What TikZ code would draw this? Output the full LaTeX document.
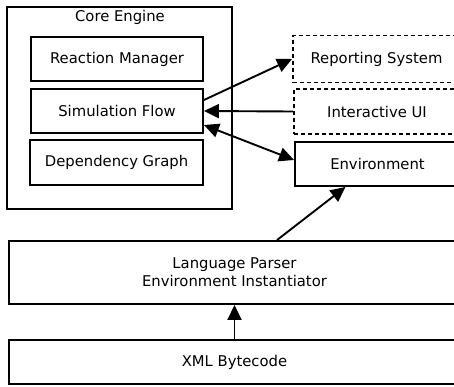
\documentclass[tikz,border=0pt]{standalone}
\usepackage{fontspec}
\setmainfont{DejaVu Sans}
\usetikzlibrary{arrows.meta}
\begin{document}
\begin{tikzpicture}[x=1pt,y=-1pt,
  every node/.style={font=\fontsize{14.8}{18}\selectfont},
  box/.style={draw,line width=1.9pt,rectangle,inner sep=0pt,align=center},
  dbox/.style={box,dash pattern=on 4pt off 3pt},
  arr/.style={line width=1.9pt,-{Triangle[length=15pt,width=14pt]}},
  darr/.style={line width=1.9pt,{Triangle[length=15pt,width=14pt]}-{Triangle[length=15pt,width=14pt]}}]
\useasboundingbox (0,0) rectangle (454,386);
\clip (0,0) rectangle (454,386);
\node[box,minimum width=225pt,minimum height=202pt] (core) at (119.5,108) {};
\node (coretitle) at (120,17) {Core Engine};
\node[box,minimum width=172pt,minimum height=44pt] (rm) at (117,59) {Reaction Manager};
\node[box,minimum width=172pt,minimum height=44pt] (sim) at (117,111) {Simulation Flow};
\node[box,minimum width=173pt,minimum height=45pt] (dep) at (116.5,162.5) {Dependency Graph};
\node[dbox,minimum width=167pt,minimum height=47pt] (rep) at (376.5,59) {Reporting System};
\node[dbox,minimum width=166pt,minimum height=45pt] (ui) at (377,111.5) {Interactive UI};
\node[box,minimum width=165pt,minimum height=44pt] (env) at (377.5,164) {Environment};
\node[box,minimum width=451pt,minimum height=63pt] (parser) at (234.5,272.5) {Language Parser\\Environment Instantiator};
\node[box,minimum width=451pt,minimum height=44pt] (xml) at (234.5,362) {XML Bytecode};
\draw[arr] ([yshift=11pt]sim.east) -- (rep.west);
\draw[arr] (ui.west) -- (sim.east);
\draw[darr] ([yshift=-14pt]sim.east) -- ([yshift=4pt]env.west);
\draw[arr] ([xshift=42.5pt]parser.north) -- ([xshift=-32pt]env.south);
\draw[arr] (xml.north) -- (parser.south);
\end{tikzpicture}
\end{document}
